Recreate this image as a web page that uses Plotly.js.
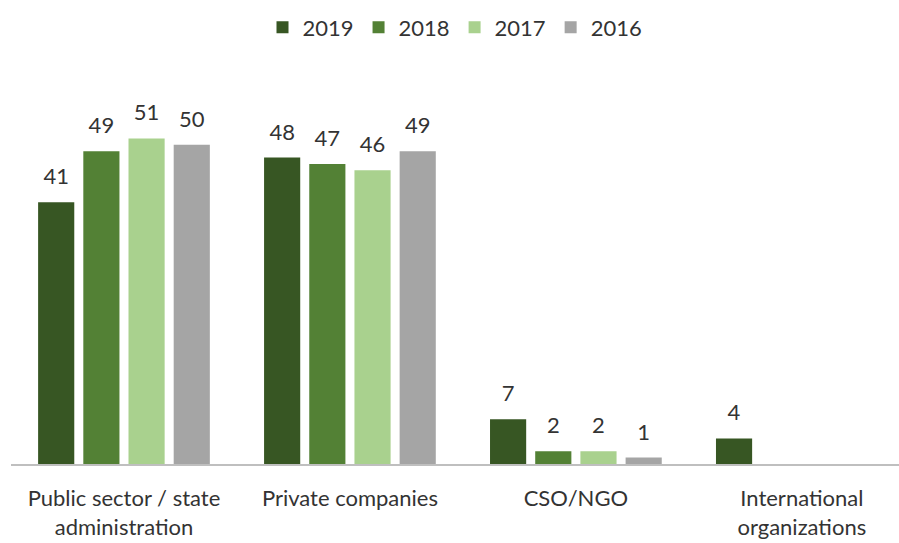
<!DOCTYPE html>
<html>
<head>
<meta charset="utf-8">
<script src="https://cdn.plot.ly/plotly-3.0.1.min.js"></script>
<style>html,body{margin:0;padding:0;background:#fff;}#chart{width:899px;height:543px;}</style>
</head>
<body>
<div id="chart"></div>
<script>
const categories = ["Public sector / state<br>administration", "Private companies", "CSO/NGO", "International<br>organizations"];
const seriesNames = ["2019", "2018", "2017", "2016"];
const v2019 = [41, 48, 7, 4];
const v2018 = [49, 47, 2, null];
const v2017 = [51, 46, 2, null];
const v2016 = [50, 49, 1, null];
const colors = ["#375623", "#538135", "#A9D18E", "#A5A5A5"];

const allValues = [v2019, v2018, v2017, v2016];
const font = "Lato, 'Open Sans', sans-serif";
const traces = allValues.map((vals, i) => ({
  type: "bar",
  name: seriesNames[i],
  x: categories,
  y: vals,
  marker: {color: colors[i]},
  text: vals.map(v => v === null ? "" : "<span style='font-size:22px'>" + String(v) + "</span><br>\u00a0"),
  textposition: "outside",
  textfont: {family: font, size: 10, color: "#333333"},
  cliponaxis: false,
  hoverinfo: "none"
}));

const layout = {
  width: 899, height: 543,
  margin: {l: 11, r: 0, t: 81, b: 79},
  paper_bgcolor: "#ffffff",
  plot_bgcolor: "#ffffff",
  barmode: "group",
  bargap: 0.2,
  bargroupgap: 0.2,
  showlegend: true,
  legend: {
    orientation: "h", x: 0.5, xanchor: "center", y: 0.988, yref: "container", yanchor: "top",
    font: {family: font, size: 22, color: "#333333"},
    itemwidth: 30, traceorder: "normal"
  },
  xaxis: {
    type: "category",
    range: [-0.5, 3.43],
    showline: true, linecolor: "#BFBFBF", linewidth: 1.5,
    ticks: "outside", ticklen: 14, tickcolor: "rgba(0,0,0,0)",
    tickfont: {family: font, size: 22, color: "#333333"},
    showgrid: false, zeroline: false, fixedrange: true
  },
  yaxis: {
    range: [0, 60],
    visible: false, showgrid: false, zeroline: false, fixedrange: true
  },
  font: {family: font, color: "#333333"}
};

Plotly.newPlot("chart", traces, layout, {displayModeBar: false, staticPlot: true});
</script>
</body>
</html>
